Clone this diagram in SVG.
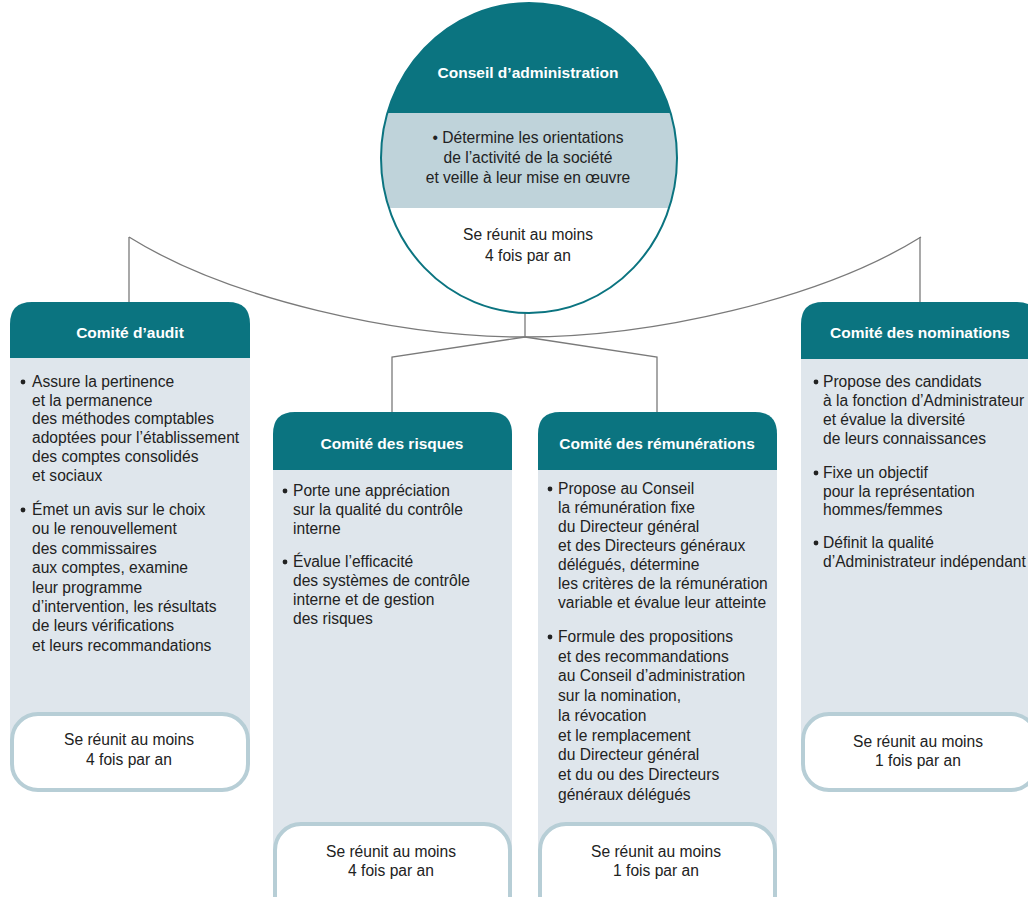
<svg xmlns="http://www.w3.org/2000/svg" width="1028" height="897" viewBox="0 0 1028 897">
<defs>
<style>
.hd{fill:#0b7480}
.bd{fill:#dfe6ec}
.pill{fill:#fff;stroke:#b7ced6;stroke-width:4}
.t{font-family:"Liberation Sans",Arial,sans-serif;font-size:15.6px;fill:#222}
.h{font-family:"Liberation Sans",Arial,sans-serif;font-size:15.5px;font-weight:bold;fill:#fff}
.c{text-anchor:middle}
.dot{fill:#222}
.ln{fill:none;stroke:#7a7a7a;stroke-width:1.3}
</style>
<clipPath id="cc"><ellipse cx="529" cy="158" rx="148" ry="155"/></clipPath>
</defs>
<rect width="1028" height="897" fill="#fff"/>

<g id="connectors">
<path class="ln" d="M129,237 C230,300 400,337 525,337 C650,337 820,300 921,237"/>
<path class="ln" d="M129,237 V302"/>
<path class="ln" d="M920,237 V302"/>
<path class="ln" d="M525,313 V337"/>
<path class="ln" d="M525,337 L392,357 V412"/>
<path class="ln" d="M525,337 L657,357 V412"/>
</g>

<g id="conseil">
<g clip-path="url(#cc)">
<rect x="370" y="0" width="320" height="320" fill="#fff"/>
<rect x="370" y="0" width="320" height="113" class="hd"/>
<rect x="370" y="113" width="320" height="95" fill="#bfd3da"/>
</g>
<ellipse cx="529" cy="158" rx="148" ry="155" fill="none" stroke="#0b7480" stroke-width="2"/>
<text class="h c" x="528" y="78" font-size="15">Conseil d’administration</text>
<text class="t c" x="528" y="143">• Détermine les orientations</text>
<text class="t c" x="528" y="163">de l’activité de la société</text>
<text class="t c" x="528" y="183">et veille à leur mise en œuvre</text>
<text class="t c" x="528" y="240">Se réunit au moins</text>
<text class="t c" x="528" y="261">4 fois par an</text>
</g>

<g id="audit">
<path class="hd" d="M10,358 V324 Q10,302 32,302 H228 Q250,302 250,324 V358 Z"/>
<rect class="bd" x="10" y="358" width="240" height="400"/>
<circle class="dot" cx="23" cy="382" r="2.4"/>
<text class="t" x="32" y="387"><tspan x="32">Assure la pertinence</tspan><tspan x="32" dy="18.7">et la permanence</tspan><tspan x="32" dy="18.7">des méthodes comptables</tspan><tspan x="32" dy="18.7">adoptées pour l’établissement</tspan><tspan x="32" dy="18.7">des comptes consolidés</tspan><tspan x="32" dy="18.7">et sociaux</tspan></text>
<circle class="dot" cx="23" cy="510" r="2.4"/>
<text class="t" x="32" y="515"><tspan x="32">Émet un avis sur le choix</tspan><tspan x="32" dy="19.4">ou le renouvellement</tspan><tspan x="32" dy="19.4">des commissaires</tspan><tspan x="32" dy="19.4">aux comptes, examine</tspan><tspan x="32" dy="19.4">leur programme</tspan><tspan x="32" dy="19.4">d’intervention, les résultats</tspan><tspan x="32" dy="19.4">de leurs vérifications</tspan><tspan x="32" dy="19.4">et leurs recommandations</tspan></text>
<text class="h c" x="130" y="338">Comité d’audit</text>
<rect class="pill" x="12" y="714" width="236" height="76" rx="26"/>
<text class="t c" x="129" y="745">Se réunit au moins</text>
<text class="t c" x="129" y="765">4 fois par an</text>
</g>

<g id="risques">
<path class="hd" d="M273,470 V434 Q273,412 295,412 H490 Q512,412 512,434 V470 Z"/>
<rect class="bd" x="273" y="470" width="239" height="400"/>
<text class="h c" x="392" y="449">Comité des risques</text>
<circle class="dot" cx="285" cy="491" r="2.4"/>
<text class="t" x="293" y="496"><tspan x="293">Porte une appréciation</tspan><tspan x="293" dy="19">sur la qualité du contrôle</tspan><tspan x="293" dy="19">interne</tspan></text>
<circle class="dot" cx="285" cy="562" r="2.4"/>
<text class="t" x="293" y="567"><tspan x="293">Évalue l’efficacité</tspan><tspan x="293" dy="19">des systèmes de contrôle</tspan><tspan x="293" dy="19">interne et de gestion</tspan><tspan x="293" dy="19">des risques</tspan></text>
<rect class="pill" x="275" y="824" width="235" height="100" rx="26"/>
<text class="t c" x="391" y="857">Se réunit au moins</text>
<text class="t c" x="391" y="876">4 fois par an</text>
</g>

<g id="remunerations">
<path class="hd" d="M538,470 V434 Q538,412 560,412 H755 Q777,412 777,434 V470 Z"/>
<rect class="bd" x="538" y="470" width="239" height="400"/>
<text class="h c" x="657" y="449">Comité des rémunérations</text>
<circle class="dot" cx="550" cy="489" r="2.4"/>
<text class="t" x="558" y="494"><tspan x="558">Propose au Conseil</tspan><tspan x="558" dy="19">la rémunération fixe</tspan><tspan x="558" dy="19">du Directeur général</tspan><tspan x="558" dy="19">et des Directeurs généraux</tspan><tspan x="558" dy="19">délégués, détermine</tspan><tspan x="558" dy="19">les critères de la rémunération</tspan><tspan x="558" dy="19">variable et évalue leur atteinte</tspan></text>
<circle class="dot" cx="550" cy="637" r="2.4"/>
<text class="t" x="558" y="642"><tspan x="558">Formule des propositions</tspan><tspan x="558" dy="19.7">et des recommandations</tspan><tspan x="558" dy="19.7">au Conseil d’administration</tspan><tspan x="558" dy="19.7">sur la nomination,</tspan><tspan x="558" dy="19.7">la révocation</tspan><tspan x="558" dy="19.7">et le remplacement</tspan><tspan x="558" dy="19.7">du Directeur général</tspan><tspan x="558" dy="19.7">et du ou des Directeurs</tspan><tspan x="558" dy="19.7">généraux délégués</tspan></text>
<rect class="pill" x="540" y="824" width="235" height="100" rx="26"/>
<text class="t c" x="656" y="857">Se réunit au moins</text>
<text class="t c" x="656" y="876">1 fois par an</text>
</g>

<g id="nominations">
<path class="hd" d="M801,359 V324 Q801,302 823,302 H1017 Q1039,302 1039,324 V359 Z"/>
<rect class="bd" x="801" y="359" width="238" height="400"/>
<text class="h c" x="920" y="338">Comité des nominations</text>
<circle class="dot" cx="816" cy="382" r="2.4"/>
<text class="t" x="823" y="387"><tspan x="823">Propose des candidats</tspan><tspan x="823" dy="19">à la fonction d’Administrateur</tspan><tspan x="823" dy="19">et évalue la diversité</tspan><tspan x="823" dy="19">de leurs connaissances</tspan></text>
<circle class="dot" cx="816" cy="473" r="2.4"/>
<text class="t" x="823" y="478"><tspan x="823">Fixe un objectif</tspan><tspan x="823" dy="18.5">pour la représentation</tspan><tspan x="823" dy="18.5">hommes/femmes</tspan></text>
<circle class="dot" cx="816" cy="543" r="2.4"/>
<text class="t" x="823" y="548"><tspan x="823">Définit la qualité</tspan><tspan x="823" dy="19">d’Administrateur indépendant</tspan></text>
<rect class="pill" x="803" y="714" width="234" height="76" rx="26"/>
<text class="t c" x="918" y="747">Se réunit au moins</text>
<text class="t c" x="918" y="766">1 fois par an</text>
</g>
</svg>
